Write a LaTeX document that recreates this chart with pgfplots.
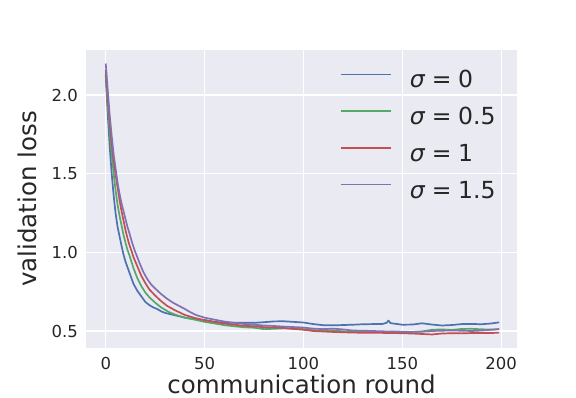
\documentclass[border=0pt]{standalone}
\usepackage{fontspec}
\setmainfont{DejaVu Sans}
\usepackage{pgfplots}
\pgfplotsset{compat=1.18}

\definecolor{sbbg}{HTML}{EAEAF2}
\definecolor{sbblue}{HTML}{4C72B0}
\definecolor{sbgreen}{HTML}{55A868}
\definecolor{sbred}{HTML}{C44E52}
\definecolor{sbpurple}{HTML}{8172B2}
\definecolor{sbtext}{HTML}{262626}

\newcommand{\sig}[1]{\hspace{15bp}\textcolor{sbtext}{\textit{σ}\hspace{0.28em}=\hspace{0.28em}#1}}

\begin{document}
\begin{tikzpicture}
\useasboundingbox (-86bp,-50bp) rectangle (490bp,348bp);
\begin{axis}[
    scale only axis,
    width=431bp,
    height=298bp,
    xmin=-10, xmax=208,
    ymin=0.392, ymax=2.286,
    xtick={0,50,100,150,200},
    ytick={0.5,1.0,1.5,2.0},
    yticklabels={0.5,1.0,1.5,2.0},
    /pgf/number format/assume math mode=true,
    axis background/.style={fill=sbbg},
    axis line style={draw=none},
    major tick length=0pt,
    grid=major,
    major grid style={white, line width=1.25bp},
    tick label style={font=\fontsize{16.5bp}{19bp}\selectfont, text=sbtext},
    xticklabel style={inner sep=0pt, yshift=-9bp},
    yticklabel style={inner sep=0pt, xshift=-8bp},
    label style={font=\fontsize{24.5bp}{29bp}\selectfont, text=sbtext},
    xlabel={communication round},
    ylabel={validation loss},
    xlabel style={at={(axis description cs:0.5,0)}, anchor=base, yshift=-45bp},
    ylabel style={at={(axis description cs:-0.115,0.5)}, rotate=0, anchor=base},
    every axis plot/.append style={line width=1.7bp, line join=round},
    legend cell align=left,
    legend style={
        at={(axis description cs:0.589,0.937)}, anchor=north west,
        draw=none, fill=none, inner sep=0pt,
        font=\fontsize{23.5bp}{27bp}\selectfont,
        row sep=9.7bp,
        nodes={inner sep=3bp, text height=16bp, text depth=5bp},
    },
    legend image code/.code={
        \draw[#1, line width=1.7bp] (0bp,8bp) -- (50bp,8bp);
    },
]

\addplot[sbblue] coordinates {
(0,2.12) (1,1.88) (2,1.67) (3,1.50) (4,1.36) (5,1.245) (6,1.16) (7,1.10) (8,1.04)
(9,0.985) (10,0.94) (12,0.87) (14,0.80) (16,0.755) (18,0.72) (20,0.685) (22,0.665)
(24,0.650) (26,0.640) (28,0.625) (30,0.615) (35,0.600) (40,0.585) (45,0.575)
(50,0.570) (55,0.558) (60,0.553) (65,0.552) (70,0.553) (75,0.552) (80,0.556)
(85,0.561) (90,0.562) (95,0.558) (100,0.554) (105,0.544) (110,0.537) (115,0.536)
(120,0.538) (125,0.540) (130,0.543) (135,0.544) (140,0.545) (142,0.552) (143,0.566)
(144,0.550) (147,0.545) (150,0.540) (155,0.541) (160,0.549) (165,0.541) (170,0.535)
(175,0.538) (180,0.544) (185,0.545) (190,0.543) (195,0.548) (199,0.555)
};
\addlegendentry{\sig{0}}

\addplot[sbgreen] coordinates {
(0,2.13) (1,1.93) (2,1.76) (3,1.62) (4,1.50) (5,1.39) (6,1.30) (7,1.23) (8,1.17)
(9,1.11) (10,1.06) (11,1.015) (12,0.98) (14,0.90) (16,0.835) (18,0.785) (20,0.745)
(22,0.715) (25,0.680) (28,0.650) (32,0.620) (36,0.600) (40,0.585) (45,0.572)
(50,0.558) (55,0.548) (60,0.537) (65,0.530) (70,0.524) (75,0.521) (80,0.512)
(85,0.514) (90,0.517) (95,0.515) (100,0.512) (105,0.505) (110,0.502) (115,0.504)
(120,0.498) (125,0.495) (130,0.494) (135,0.496) (140,0.494) (145,0.495) (150,0.493)
(155,0.494) (160,0.497) (165,0.508) (170,0.510) (175,0.507) (180,0.513) (185,0.514)
(190,0.511) (195,0.509) (199,0.511)
};
\addlegendentry{\sig{0.5}}

\addplot[sbred] coordinates {
(0,2.16) (1,1.98) (2,1.82) (3,1.69) (4,1.58) (5,1.49) (6,1.41) (7,1.33) (8,1.26)
(9,1.20) (10,1.14) (11,1.09) (12,1.045) (13,1.01) (14,0.97) (16,0.91) (18,0.85)
(20,0.805) (22,0.765) (25,0.725) (28,0.690) (31,0.660) (35,0.632) (40,0.602)
(45,0.583) (50,0.568) (55,0.557) (60,0.547) (65,0.540) (70,0.533) (75,0.530)
(80,0.524) (85,0.522) (90,0.520) (95,0.513) (100,0.508) (105,0.500) (110,0.497)
(115,0.494) (120,0.492) (125,0.490) (130,0.489) (135,0.488) (140,0.488) (145,0.487)
(150,0.486) (155,0.484) (160,0.481) (165,0.478) (170,0.484) (175,0.486) (180,0.485)
(185,0.487) (190,0.488) (195,0.487) (199,0.490)
};
\addlegendentry{\sig{1}}

\addplot[sbpurple] coordinates {
(0,2.20) (1,2.03) (2,1.87) (3,1.74) (4,1.62) (5,1.53) (6,1.44) (7,1.37) (8,1.31)
(9,1.26) (10,1.21) (11,1.16) (12,1.12) (13,1.075) (14,1.035) (15,1.00) (17,0.935)
(19,0.875) (21,0.830) (23,0.795) (25,0.770) (28,0.735) (31,0.705) (34,0.680)
(37,0.660) (40,0.640) (43,0.618) (46,0.600) (50,0.585) (55,0.572) (60,0.560)
(65,0.552) (70,0.545) (75,0.540) (80,0.535) (85,0.532) (90,0.528) (95,0.525)
(100,0.522) (105,0.515) (110,0.512) (115,0.515) (120,0.510) (125,0.503) (130,0.502)
(135,0.500) (140,0.498) (145,0.497) (150,0.496) (155,0.494) (160,0.496) (165,0.500)
(170,0.502) (175,0.503) (180,0.502) (185,0.500) (190,0.503) (195,0.508) (199,0.513)
};
\addlegendentry{\sig{1.5}}

\end{axis}
\end{tikzpicture}
\end{document}
